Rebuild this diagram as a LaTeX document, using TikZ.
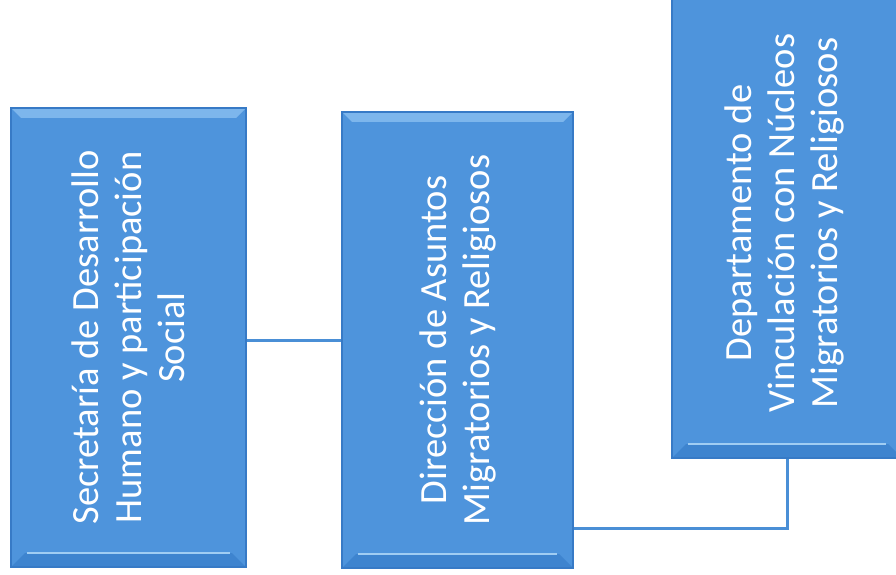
\documentclass[tikz,border=0pt]{standalone}
\usepackage{fontspec}
\setmainfont{Carlito}
\definecolor{boxblue}{RGB}{78,148,220}
\definecolor{boxedge}{RGB}{55,122,198}
\definecolor{bevlight}{RGB}{125,182,236}
\definecolor{bevdark}{RGB}{62,132,207}
\definecolor{hilite}{RGB}{160,205,243}
\definecolor{linkblue}{RGB}{74,143,214}
\tikzset{
  orgbox/.style={draw=boxedge, line width=1.2pt, fill=boxblue, inner sep=0pt,
    path picture={
      \fill[bevlight] (path picture bounding box.north west) -- (path picture bounding box.north east)
        -- ([xshift=-10pt,yshift=-10pt]path picture bounding box.north east)
        -- ([xshift=10pt,yshift=-10pt]path picture bounding box.north west) -- cycle;
      \fill[bevdark] (path picture bounding box.south west) -- (path picture bounding box.south east)
        -- ([xshift=-14pt,yshift=14pt]path picture bounding box.south east)
        -- ([xshift=14pt,yshift=14pt]path picture bounding box.south west) -- cycle;
      \draw[hilite, line width=2pt] ([xshift=16pt,yshift=14pt]path picture bounding box.south west)
        -- ([xshift=-16pt,yshift=14pt]path picture bounding box.south east);
    }},
  orgtext/.style={rotate=90, text=white, align=center, inner sep=0pt,
    font=\fontsize{38.5}{43}\selectfont},
  link/.style={draw=linkblue, line width=3pt}
}
\begin{document}
\begin{tikzpicture}[x=1pt, y=-1pt]
\useasboundingbox (0,0) rectangle (896,575);
\clip (0,0) rectangle (896,575);
\node[orgbox, minimum width=235pt, minimum height=459pt] (b1) at (128.5,337.5) {};
\node[orgbox, minimum width=231pt, minimum height=456pt] (b2) at (457.5,340) {};
\node[orgbox, minimum width=230pt, minimum height=470pt] (b3) at (787,223) {};
\node[orgtext] (t1) at (b1.center) {Secretaría de Desarrollo\\Humano y participación\\Social};
\node[orgtext] (t2) at (b2.center) {Dirección de Asuntos\\Migratorios y Religiosos};
\node[orgtext] (t3) at ([xshift=-3pt]b3.center) {Departamento de\\Vinculación con Núcleos\\Migratorios y Religiosos};
\draw[link] (b1.east |- 0,340) -- (b2.west |- 0,340);
\draw[link] ([yshift=40pt]b2.south east) -| (b3.south);
\end{tikzpicture}
\end{document}
